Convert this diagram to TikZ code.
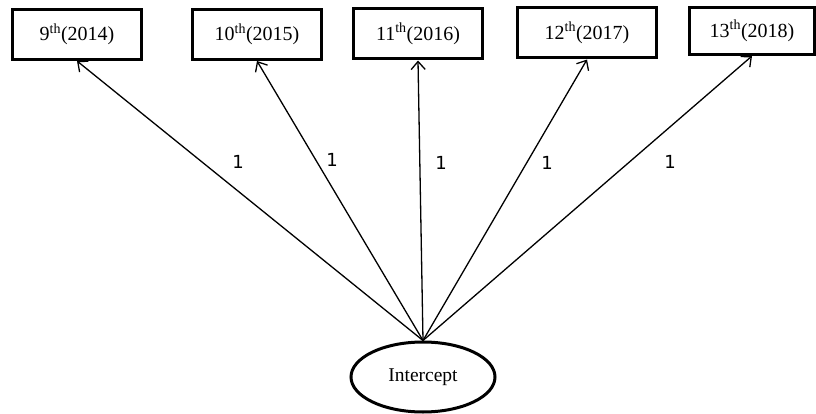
\documentclass[tikz,border=0pt]{standalone}
\usepackage{fontspec}
\setmainfont{Liberation Serif}
\newfontfamily\labelfont{DejaVu Sans}
\usetikzlibrary{arrows.meta,shapes.geometric}
\begin{document}
\begin{tikzpicture}[x=1pt,y=-1pt,
  wave/.style={draw,line width=3pt,inner sep=0pt,minimum height=50pt,font=\fontsize{20}{22}\selectfont},
  latent/.style={draw,ellipse,line width=3pt,minimum width=144pt,minimum height=70pt,inner sep=0pt,font=\fontsize{19.5}{21}\selectfont},
  path/.style={line width=1.3pt,-{Straight Barb[length=8pt,width=14pt,line width=1.3pt]}},
  weight/.style={font=\labelfont\fontsize{18}{20}\selectfont,inner sep=0pt}]
  \useasboundingbox (0,0) rectangle (816,414);
  \fill[white] (0,0) rectangle (816,414);

  % observed measurement waves
  \node[wave,minimum width=129pt] (w9)  at (77,34.5)  {9\textsuperscript{th}(2014)};
  \node[wave,minimum width=129pt] (w10) at (257,34.5) {10\textsuperscript{th}(2015)};
  \node[wave,minimum width=129pt] (w11) at (418,34)   {11\textsuperscript{th}(2016)};
  \node[wave,minimum width=139pt] (w12) at (587,33)   {12\textsuperscript{th}(2017)};
  \node[wave,minimum width=125pt,minimum height=47pt] (w13) at (752,31) {13\textsuperscript{th}(2018)};

  % latent intercept factor
  \node[latent] (int) at (423,377) {Intercept};

  % fixed loadings
  \draw[path] (int.north) -- (w9.south);
  \draw[path] (int.north) -- (w10.south);
  \draw[path] (int.north) -- (w11.south);
  \draw[path] (int.north) -- (w12.south);
  \draw[path] (int.north) -- (w13.south);

  \node[weight] (l9)  at (238,162) {1};
  \node[weight] (l10) at (332,160) {1};
  \node[weight] (l11) at (441,163) {1};
  \node[weight] (l12) at (547,163) {1};
  \node[weight] (l13) at (670,162) {1};
\end{tikzpicture}
\end{document}
